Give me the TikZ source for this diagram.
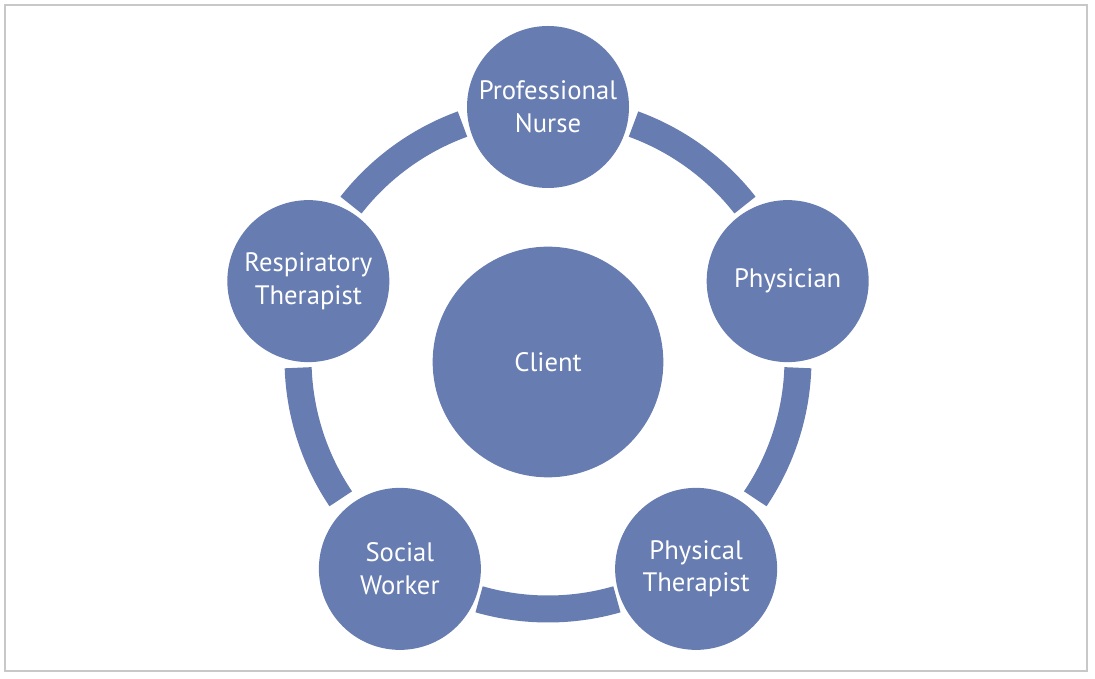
\documentclass[tikz,border=0pt]{standalone}
\usepackage{fontspec}
\setmainfont{PT Sans}
\usetikzlibrary{calc}
\definecolor{nodeblue}{RGB}{103,124,176}
\definecolor{framegray}{RGB}{200,200,200}
\begin{document}
\begin{tikzpicture}[x=0.75pt,y=0.75pt,
  member/.style={circle, fill=nodeblue, minimum size=121.5pt, inner sep=0pt,
    text=white, align=center, font=\fontsize{20}{24.5}\selectfont},
  hub/.style={member, minimum size=173pt},
  link/.style={draw=nodeblue, line width=20.25pt, line cap=butt},
  frame/.style={draw=framegray, line width=1.1pt}]
\useasboundingbox (0,0) rectangle (1095,678);
\draw[frame] (5,7) rectangle (1087,673);
% ring centre
\coordinate (o) at (548,319);
% nodes
\node[hub] (c) at ($(o)+(0,-3)$) {Client};
\node[member] (nurse) at ($(o)+(90:189pt)$) {Professional\\Nurse};
\node[member] (phys) at ($(o)+(18:189pt)$) {Physician};
\node[member] (pt) at ($(o)+(-54:189pt)+(0,-6)$) {Physical\\Therapist};
\node[member] (sw) at ($(o)+(-126:189pt)+(0,-6)$) {Social\\Worker};
\node[member] (rt) at ($(o)+(162:189pt)$) {Respiratory\\Therapist};
% ring segments between neighbours
\draw[link] ($(o)+(70:187.5pt)$) arc[start angle=70, end angle=38, radius=187.5pt];
\draw[link] ($(o)+(-2:187.5pt)$) arc[start angle=-2, end angle=-34, radius=187.5pt];
\draw[link] ($(o)+(-74:187.5pt)$) arc[start angle=-74, end angle=-106, radius=187.5pt];
\draw[link] ($(o)+(-146:187.5pt)$) arc[start angle=-146, end angle=-178, radius=187.5pt];
\draw[link] ($(o)+(142:187.5pt)$) arc[start angle=142, end angle=110, radius=187.5pt];
\end{tikzpicture}
\end{document}
